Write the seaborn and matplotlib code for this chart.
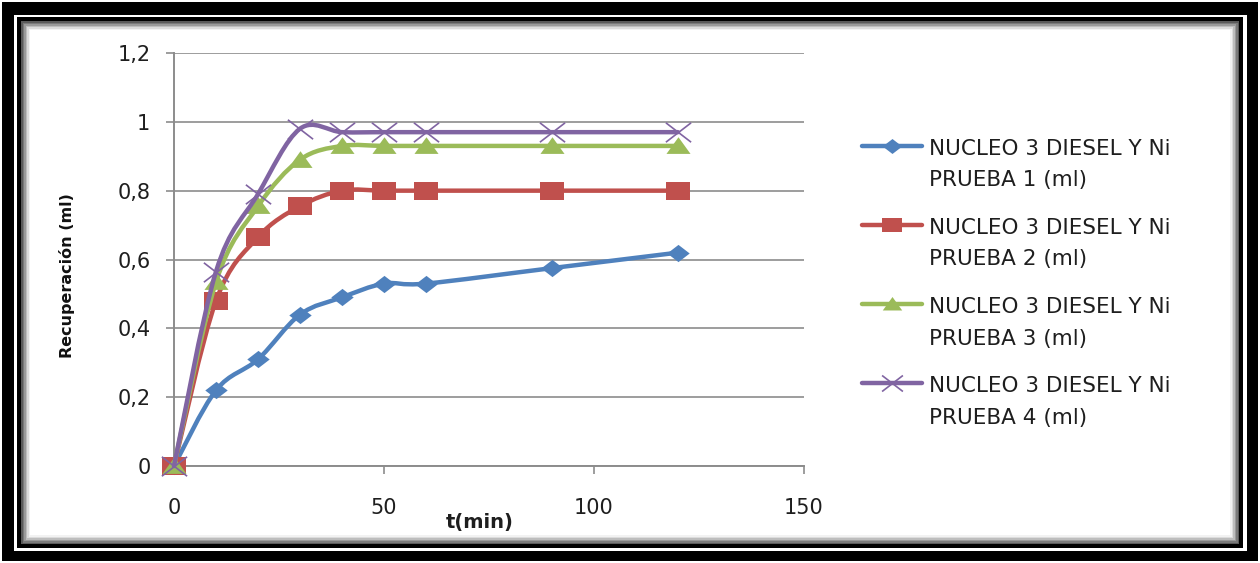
import numpy as np
import pandas as pd
import matplotlib
matplotlib.use("Agg")
import matplotlib.pyplot as plt
import seaborn as sns
from matplotlib.path import Path
from matplotlib.patches import PathPatch, Rectangle
from matplotlib.lines import Line2D
from matplotlib.markers import MarkerStyle

# ---------------- data ----------------
t_min = [0, 10, 20, 30, 40, 50, 60, 90, 120]
prueba1 = [0, 0.22, 0.31, 0.44, 0.49, 0.53, 0.53, 0.575, 0.62]
prueba2 = [0, 0.48, 0.665, 0.755, 0.80, 0.80, 0.80, 0.80, 0.80]
prueba3 = [0, 0.535, 0.755, 0.89, 0.93, 0.93, 0.93, 0.93, 0.93]
prueba4 = [0, 0.565, 0.79, 0.98, 0.97, 0.97, 0.97, 0.97, 0.97]
series_names = [
    "NUCLEO 3 DIESEL Y Ni\nPRUEBA 1 (ml)",
    "NUCLEO 3 DIESEL Y Ni\nPRUEBA 2 (ml)",
    "NUCLEO 3 DIESEL Y Ni\nPRUEBA 3 (ml)",
    "NUCLEO 3 DIESEL Y Ni\nPRUEBA 4 (ml)",
]
x_ticks = [0, 50, 100, 150]
y_ticks = [0, 0.2, 0.4, 0.6, 0.8, 1.0, 1.2]
y_tick_labels = ["0", "0,2", "0,4", "0,6", "0,8", "1", "1,2"]
x_label = "t(min)"
y_label = "Recuperación (ml)"

colors = ["#4F81BD", "#C0504D", "#9BBB59", "#8064A2"]

# --------------- markers (horizontally stretched like the reference) ---------------
sx = 1.3
m_diamond = MarkerStyle(Path([(0, 1), (sx, 0), (0, -1), (-sx, 0), (0, 1)],
                             [Path.MOVETO, Path.LINETO, Path.LINETO, Path.LINETO, Path.CLOSEPOLY]))
m_square = MarkerStyle(Path([(-sx, -1), (sx, -1), (sx, 1), (-sx, 1), (-sx, -1)],
                            [Path.MOVETO, Path.LINETO, Path.LINETO, Path.LINETO, Path.CLOSEPOLY]))
m_tri = MarkerStyle(Path([(-sx, -0.8), (sx, -0.8), (0, 1.0), (-sx, -0.8)],
                         [Path.MOVETO, Path.LINETO, Path.LINETO, Path.CLOSEPOLY]))
m_x = MarkerStyle(Path([(-sx, -1), (sx, 1), (-sx, 1), (sx, -1)],
                       [Path.MOVETO, Path.LINETO, Path.MOVETO, Path.LINETO]))
markers = [m_diamond, m_square, m_tri, m_x]
marker_sizes = [260, 310, 300, 330]  # points^2 for scatter

sns.set_theme(style="white")
plt.rcParams["font.family"] = ["DejaVu Sans"]

W, H = 1260, 563
fig = plt.figure(figsize=(W / 100, H / 100), dpi=100)
fig.patch.set_facecolor("white")


def frect(x0, y0, x1, y1, color, z):
    # pixel coordinates from top-left
    r = Rectangle((x0 / W, 1 - y1 / H), (x1 - x0) / W, (y1 - y0) / H,
                  transform=fig.transFigure, facecolor=color, edgecolor="none", zorder=z)
    fig.add_artist(r)


# frame
frect(2, 2, 1258, 561, "black", -20)
frect(14, 15, 1247, 551, "white", -19)
frect(17, 17, 1243, 548, "black", -18)
grads = ["#5a5a5a", "#7a7a7a", "#9a9a9a", "#bdbdbd", "#dcdcdc", "#f2f2f2"]
for k, c in enumerate(grads):
    frect(21 + k * 1.5, 21 + k * 1.5, 1239 - k * 1.5, 544 - k * 1.5, c, -17 + k * 0.1)
frect(30, 30, 1230, 535, "white", -16)

ax = fig.add_axes([174 / W, 1 - 466 / H, 630 / W, 413 / H])
ax.set_facecolor("none")

df = pd.DataFrame({"t": t_min * 4,
                   "v": prueba1 + prueba2 + prueba3 + prueba4,
                   "serie": sum([[n] * len(t_min) for n in series_names], [])})


def smooth_path(xs, ys):
    pts = np.column_stack([xs, ys]).astype(float)
    n = len(pts)
    verts = [pts[0]]
    codes = [Path.MOVETO]
    for i in range(n - 1):
        p0 = pts[i - 1] if i > 0 else pts[i]
        p1 = pts[i]
        p2 = pts[i + 1]
        p3 = pts[i + 2] if i + 2 < n else pts[i + 1]
        c1 = p1 + (p2 - p0) / 6.0
        c2 = p2 - (p3 - p1) / 6.0
        verts += [c1, c2, p2]
        codes += [Path.CURVE4] * 3
    return Path(verts, codes)


for i, name in enumerate(series_names):
    sub = df[df["serie"] == name]
    patch = PathPatch(smooth_path(sub["t"].values, sub["v"].values), facecolor="none",
                      edgecolor=colors[i], lw=3.2, capstyle="round", joinstyle="round",
                      zorder=3 + i, clip_on=False)
    ax.add_patch(patch)
    sns.scatterplot(data=sub, x="t", y="v", marker=markers[i], s=marker_sizes[i],
                    color=colors[i], edgecolor=colors[i],
                    linewidth=(1.2 if i == 3 else 0), ax=ax, zorder=3.5 + i,
                    clip_on=False, legend=False)

ax.set_xlim(0, 150)
ax.set_ylim(0, 1.2)
ax.set_xticks(x_ticks)
ax.set_xticklabels([str(v) for v in x_ticks])
ax.set_yticks(y_ticks)
ax.set_yticklabels(y_tick_labels)

gcol = "#8c8c8c"
ax.yaxis.grid(True, color=gcol, lw=1.2)
ax.xaxis.grid(False)
for s in ["top", "right"]:
    ax.spines[s].set_visible(False)
for s in ["left", "bottom"]:
    ax.spines[s].set_color(gcol)
    ax.spines[s].set_linewidth(1.4)
ax.tick_params(axis="y", direction="out", length=6, width=1.2, color=gcol,
               labelsize=15, labelcolor="#1e1e1e", pad=11, left=True)
ax.tick_params(axis="x", direction="out", length=6, width=1.2, color=gcol,
               labelsize=15, labelcolor="#1e1e1e", pad=17, bottom=True)

ax.set_xlabel(x_label, fontsize=14, fontweight="bold", color="#1e1e1e")
ax.xaxis.set_label_coords(0.486, -0.138)
ax.xaxis.label.set_va("center")
ax.set_ylabel(y_label, fontsize=11.5, fontweight="bold", color="#111111")
ax.yaxis.set_label_coords(-0.17, 0.462)
ax.yaxis.label.set_va("center")

# legend
handles = [Line2D([], [], color=colors[i], lw=3.2, marker=markers[i],
                  markersize=(14 if i != 3 else 15), markeredgecolor=colors[i],
                  markeredgewidth=(1.2 if i == 3 else 0)) for i in range(4)]
leg = ax.legend(handles, series_names, loc="upper left",
                bbox_to_anchor=(862 / W, 1 - 139 / H), bbox_transform=fig.transFigure,
                frameon=False, fontsize=15.5, handlelength=2.8, handletextpad=0.3,
                labelspacing=1.29, borderpad=0, borderaxespad=0)
for txt in leg.get_texts():
    txt.set_linespacing(1.71)
    txt.set_color("#1e1e1e")
off = 19.5 / 1.389
for h in leg.legend_handles:
    h.set_ydata(np.asarray(h.get_ydata(), dtype=float) + off)

fig.savefig("out.png", dpi=100)
